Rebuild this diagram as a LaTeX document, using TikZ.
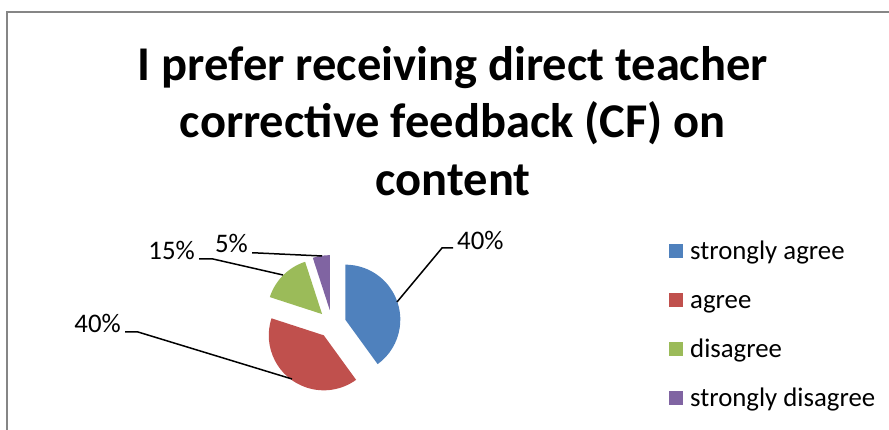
\documentclass[tikz,border=0pt]{standalone}
\usepackage{fontspec}
\setmainfont{Carlito}
\definecolor{bluecolor}{RGB}{79,129,189}
\definecolor{redcolor}{RGB}{192,80,77}
\definecolor{greencolor}{RGB}{155,187,89}
\definecolor{purplecolor}{RGB}{128,100,162}
\definecolor{framecolor}{RGB}{134,134,134}

\begin{document}
\begin{tikzpicture}[x=1pt, y=1pt,
    leader/.style={line width=1.5pt},
    pctlabel/.style={font=\fontsize{26.8}{32}\selectfont, inner sep=4pt},
    legbox/.style={minimum size=14pt, inner sep=0pt}]
    \useasboundingbox (0,0) rectangle (889,430);

    % Chart frame (cut off at the right and bottom)
    \draw[framecolor, line width=2pt] (7,0) -- (7,417.5) -- (890,417.5);

    % Title
    \node[font=\bfseries\fontsize{48.5}{57.5}\selectfont, align=center, anchor=north, inner sep=0pt] (title) at (453,384)
        {I prefer receiving direct teacher\\corrective feedback (CF) on\\content};

    % Exploded pie slices
    \foreach \from/\to/\col in {-54/90/bluecolor, -198/-54/redcolor, 108/162/greencolor, 90/108/purplecolor}
        \fill[\col, shift={({(\from+\to)/2}:14)}] (332,106) -- ++(\from:55) arc (\from:\to:55) -- cycle;

    % Where the leader lines touch the slices, and their bends
    \coordinate (ptA) at (397,128);
    \coordinate (elbowA) at (442,182);
    \coordinate (ptB) at (292,51);
    \coordinate (elbowB) at (138,98);
    \coordinate (ptC) at (283,155);
    \coordinate (elbowC) at (213,171);
    \coordinate (ptD) at (322,174);
    \coordinate (elbowD) at (258,177);

    % Percentage labels
    \node[pctlabel, anchor=base west] (lblA) at (453,180) {40\%};
    \node[pctlabel, anchor=base east] (lblB) at (125,97) {40\%};
    \node[pctlabel, anchor=base east] (lblC) at (199,170) {15\%};
    \node[pctlabel, anchor=base east] (lblD) at (252,177) {5\%};

    % Leader lines
    \foreach \s/\side in {A/west, B/east, C/east, D/east}
        \draw[leader] (pt\s) -- (elbow\s) -- (lbl\s.\side |- elbow\s);

    % Legend
    \foreach \lab/\col [count=\i] in {strongly agree/bluecolor, agree/redcolor, disagree/greencolor, strongly disagree/purplecolor} {
        \node[legbox, fill=\col] (leg\i) at (676,{179-49*(\i-1)}) {};
        \node[pctlabel, anchor=base west, inner sep=2pt] (legtxt\i) at (688,{170-49*(\i-1)}) {\lab};
    }
\end{tikzpicture}
\end{document}
